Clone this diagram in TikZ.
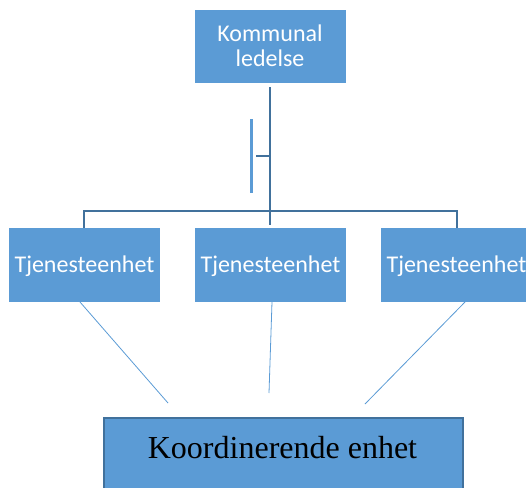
\documentclass[tikz,border=0pt]{standalone}
\usepackage{fontspec}
\setmainfont{Liberation Serif}
\newfontfamily\calfont{Carlito}
\definecolor{boxblue}{HTML}{5B9BD5}
\definecolor{darkblue}{HTML}{41719C}
\begin{document}
\begin{tikzpicture}[x=1pt,y=-1pt,
  box/.style={fill=boxblue, draw=none, minimum width=151pt, minimum height=74pt, inner sep=0pt, anchor=north west},
  lbl/.style={font=\calfont\fontsize{24}{25}\selectfont, text=white, anchor=base, inner sep=0pt},
  tree/.style={draw=darkblue, line width=2pt},
  thinline/.style={draw=boxblue, line width=0.8pt}]
\useasboundingbox (0,0) rectangle (526,487);
% boxes
\node[box, minimum height=73pt] (top) at (195,10) {};
\node[box] (t1) at (9,228) {};
\node[box] (t2) at (195,228) {};
\node[box] (t3) at (381,228) {};
\node[box, draw=darkblue, line width=2pt, minimum width=359pt, minimum height=75pt] (bot) at (103,417) {};
% labels
\node[lbl] (l1) at (270,41.7) {Kommunal};
\node[lbl] (l2) at (270,66.7) {ledelse};
\node[lbl] (lt1) at (84.5,272.3) {Tjenesteenhet};
\node[lbl] (lt2) at (270.5,272.3) {Tjenesteenhet};
\node[lbl] (lt3) at (456.5,272.3) {Tjenesteenhet};
\node[font=\fontsize{32}{36}\selectfont, anchor=base, inner sep=0pt] (lb) at (282.5,458) {Koordinerende enhet};
% tree connector
\coordinate (v0) at (270,87);
\coordinate (v1) at (270,225);
\coordinate (hl) at (84,211);
\coordinate (hr) at (457,211);
\draw[tree] (v0) -- (v1);
\draw[tree] (hl |- t1.north) -- (hl) -- (hr) -- (hr |- t3.north);
% bracket symbol
\coordinate (b0) at (251,119);
\coordinate (b1) at (251,193);
\coordinate (tk0) at (256,156);
\coordinate (tk1) at (270,156);
\draw[draw=boxblue, line width=3pt] (b0) -- (b1);
\draw[tree] (tk0) -- (tk1);
% thin connectors
\coordinate (e1) at (168,403);
\coordinate (e2) at (269,393);
\coordinate (e3) at (365,404);
\draw[thinline] (80,302) -- (e1);
\draw[thinline] (272,302) -- (e2);
\draw[thinline] (465,302) -- (e3);
\end{tikzpicture}
\end{document}
